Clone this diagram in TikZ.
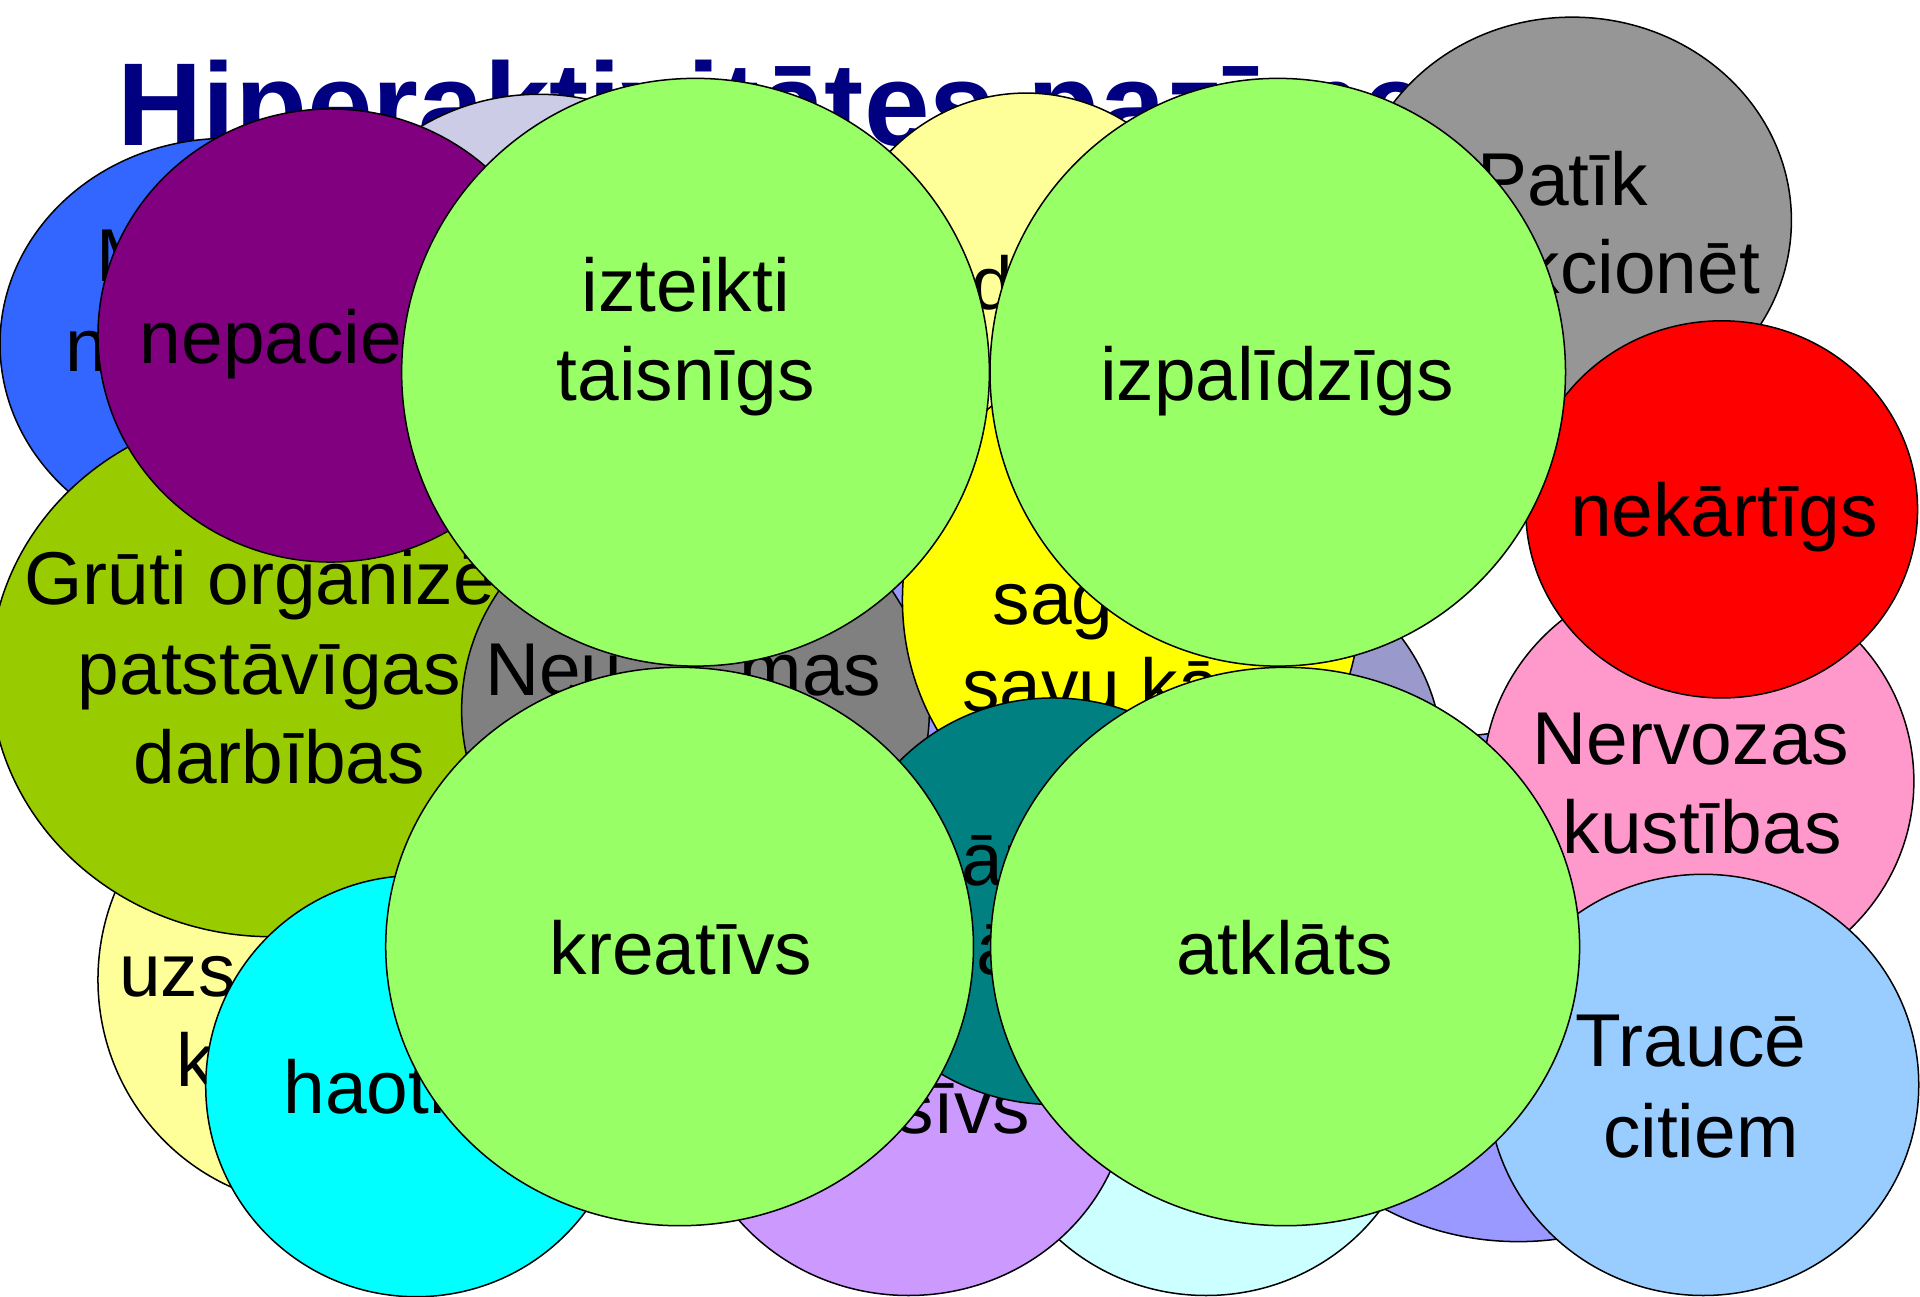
\documentclass[tikz,border=0pt]{standalone}
\usepackage{fontspec}
\setmainfont{Liberation Sans}
\usepackage{tikz}

\definecolor{cNavy}{RGB}{0,0,128}
\definecolor{cBlue}{RGB}{51,102,255}
\definecolor{cLilac}{RGB}{204,204,230}
\definecolor{cPurple}{RGB}{128,0,128}
\definecolor{cOlive}{RGB}{153,204,0}
\definecolor{cCream}{RGB}{255,255,153}
\definecolor{cGrayA}{RGB}{150,150,150}
\definecolor{cGrayB}{RGB}{128,128,128}
\definecolor{cSlate}{RGB}{153,153,204}
\definecolor{cPeri}{RGB}{153,153,255}
\definecolor{cYellow}{RGB}{255,255,0}
\definecolor{cTeal}{RGB}{0,128,128}
\definecolor{cMauve}{RGB}{204,153,255}
\definecolor{cIce}{RGB}{204,255,255}
\definecolor{cAqua}{RGB}{0,255,255}
\definecolor{cPink}{RGB}{255,153,204}
\definecolor{cRed}{RGB}{255,0,0}
\definecolor{cSky}{RGB}{153,204,255}
\definecolor{cLime}{RGB}{153,255,102}

\newcommand\lbfont{\fontsize{17.4pt}{21pt}\selectfont}
\newcommand\ttlfont{\fontsize{27.4pt}{33pt}\selectfont\bfseries}

\begin{document}
\begin{tikzpicture}[x=0.1mm,y=-0.1mm,
    blob/.style={draw=black,line width=0.35pt},
    lbl/.style={inner sep=0pt,font=\lbfont}]
\useasboundingbox (0,0) rectangle (1568,1059);
\fill [white] (0,0) rectangle (1568,1059);

% title, behind everything
\draw (95,118.5) node[anchor=base west,inner sep=0pt,font=\ttlfont,text=cNavy] (ttl) {Hiperaktivitātes pazīmes};

\draw [blob,fill=cLilac] (440,247) ellipse (180 and 170);
\draw [blob,fill=cBlue] (185,281) ellipse (185 and 168);
\draw (78,230) node[lbl,anchor=base west] (m1) {M};
\draw (53,303) node[lbl,anchor=base west] (m2) {n};

\draw [blob,fill=cCream] (838,246) ellipse (160 and 170);
\draw (793,253) node[lbl,anchor=base west] (d1) {d};

\draw [blob,fill=cGrayA] (1284,180) ellipse (179 and 166);
\draw (1276,167.5) node[lbl,anchor=base] (p1) {Patīk};
\draw (1438,240) node[lbl,anchor=base east] (p2) {kcionēt};

\draw [blob,fill=cPeri] (755,545) ellipse (70 and 110);
\draw [blob,fill=cSlate] (1000,620) ellipse (178 and 170);
\draw [blob,fill=cPeri] (1240,806) ellipse (223 and 208);

\draw [blob,fill=cCream] (262,800) ellipse (182 and 185);
\draw (96.5,814) node[lbl,anchor=base west] (u1) {uzs};
\draw (143.5,887) node[lbl,anchor=base west] (u2) {k};

\draw [blob,fill=cOlive] (222,550) ellipse (230 and 215);
\draw (19.5,494) node[lbl,anchor=base west] (g1) {Grūti organizē};
\draw (220,567) node[lbl,anchor=base] (g2) {patstāvīgas};
\draw (228,640) node[lbl,anchor=base] (g3) {darbības};

\draw [blob,fill=cPurple] (270,274) ellipse (190 and 185);
\draw (113.6,297) node[lbl,anchor=base west] (np) {nepacie};

\draw [blob,fill=cGrayB] (568,580) ellipse (191 and 180);
\draw (395.5,568) node[lbl,anchor=base west] (ne1) {Neu};
\draw (720.5,568) node[lbl,anchor=base east] (ne2) {mas};

\draw [blob,fill=cYellow] (924,490) ellipse (187 and 200);
\draw (810,510) node[lbl,anchor=base west] (sa1) {sag};
\draw (785,581) node[lbl,anchor=base west] (sa2) {savu kā};

\draw [blob,fill=cIce] (985,888) ellipse (176 and 170);
\draw [blob,fill=cMauve] (742,888) ellipse (180 and 170);
\draw (841.5,925.7) node[lbl,anchor=base east] (sv) {sīvs};

\draw [blob,fill=cTeal] (860,736) ellipse (173 and 166);
\draw (784.6,723) node[lbl,anchor=base west] (te1) {ār};
\draw (796.6,796) node[lbl,anchor=base west] (te2) {ā};

\draw [blob,fill=cAqua] (340,887) ellipse (172 and 172);
\draw (231,909) node[lbl,anchor=base west] (ha) {haoti};

\draw [blob,fill=cPink] (1387,638) ellipse (176 and 170);
\draw (1381,624) node[lbl,anchor=base] (nv1) {Nervozas};
\draw (1390,697) node[lbl,anchor=base] (nv2) {kustības};

\draw [blob,fill=cRed] (1406,416) ellipse (160 and 154);
\draw (1408,438.5) node[lbl,anchor=base] (nk) {nekārtīgs};

\draw [blob,fill=cSky] (1391,886) ellipse (176 and 172);
\draw (1381,871) node[lbl,anchor=base] (tr1) {Traucē};
\draw (1389,945) node[lbl,anchor=base] (tr2) {citiem};

% the four green ones on top
\draw [blob,fill=cLime] (568,304) ellipse (240 and 240);
\draw (560,254) node[lbl,anchor=base] (iz1) {izteikti};
\draw (560,327) node[lbl,anchor=base] (iz2) {taisnīgs};

\draw [blob,fill=cLime] (1043.5,304) ellipse (235 and 240);
\draw (1043,327) node[lbl,anchor=base] (ip) {izpalīdzīgs};

\draw [blob,fill=cLime] (555,773) ellipse (240 and 228);
\draw (556,796) node[lbl,anchor=base] (kr) {kreatīvs};

\draw [blob,fill=cLime] (1049.5,773) ellipse (240.5 and 228);
\draw (1049,796) node[lbl,anchor=base] (at) {atklāts};
\end{tikzpicture}
\end{document}
